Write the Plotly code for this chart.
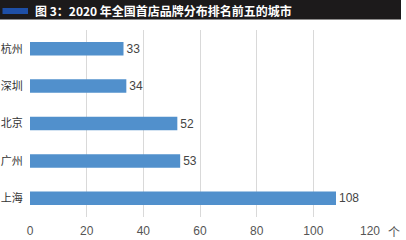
import plotly.graph_objects as go

cities = ["上海", "广州", "北京", "深圳", "杭州"]
values = [108, 53, 52, 34, 33]
x_ticks = [0, 20, 40, 60, 80, 100, 120]
title_text = "图 3：2020 年全国首店品牌分布排名前五的城市"
unit_text = "个"

W, H = 406, 240
L, R, T, B = 30, 36, 30, 23
PW, PH = W - L - R, H - T - B

def px(x):
    return (x - L) / PW

def py(y):
    return (H - B - y) / PH

font_fam = "Liberation Sans, Arial, Noto Sans CJK SC, sans-serif"

fig = go.Figure(go.Bar(
    y=cities, x=values, orientation="h",
    marker=dict(color="#5190CC", line=dict(width=0)),
    width=0.36,
    text=values, textposition="outside", cliponaxis=False,
    constraintext="none",
    textfont=dict(size=12, color="#444444", family=font_fam),
))

fig.update_layout(
    width=W, height=H,
    margin=dict(l=L, r=R, t=T, b=B, pad=0, autoexpand=False),
    plot_bgcolor="white", paper_bgcolor="white",
    showlegend=False,
    font=dict(family=font_fam),
    xaxis=dict(range=[0, 120], tickvals=x_ticks, showgrid=True,
               gridcolor="#d9d9d9", gridwidth=1, zeroline=False,
               showline=False, ticks="outside", ticklen=3,
               tickcolor="rgba(0,0,0,0)", automargin=False,
               tickfont=dict(size=12, color="#555555", family=font_fam)),
    yaxis=dict(showgrid=False, zeroline=False, showline=False,
               ticks="outside", ticklen=4, tickcolor="rgba(0,0,0,0)",
               automargin=False,
               tickfont=dict(size=11, color="#333333",
                             family="Noto Sans CJK SC, sans-serif")),
    shapes=[
        dict(type="rect", xref="paper", yref="paper",
             x0=px(0), x1=px(401), y0=py(0), y1=py(19.5),
             fillcolor="#1c1a1b", line=dict(width=0), layer="above"),
        dict(type="rect", xref="paper", yref="paper",
             x0=px(2.5), x1=px(28), y0=py(8), y1=py(14),
             fillcolor="#1e4fa6", line=dict(width=0), layer="above"),
    ],
    annotations=[
        dict(text="<b>" + title_text + "</b>", xref="paper", yref="paper",
             x=px(33), y=py(10.5), xanchor="left", yanchor="middle",
             showarrow=False,
             font=dict(size=12, color="white",
                       family="Noto Sans CJK SC, sans-serif")),
        dict(text=unit_text, xref="paper", yref="paper",
             x=px(386), y=py(231), xanchor="left", yanchor="middle",
             showarrow=False,
             font=dict(size=12, color="#555555",
                       family="Noto Sans CJK SC, sans-serif")),
    ],
)

fig.write_html("out.html")
